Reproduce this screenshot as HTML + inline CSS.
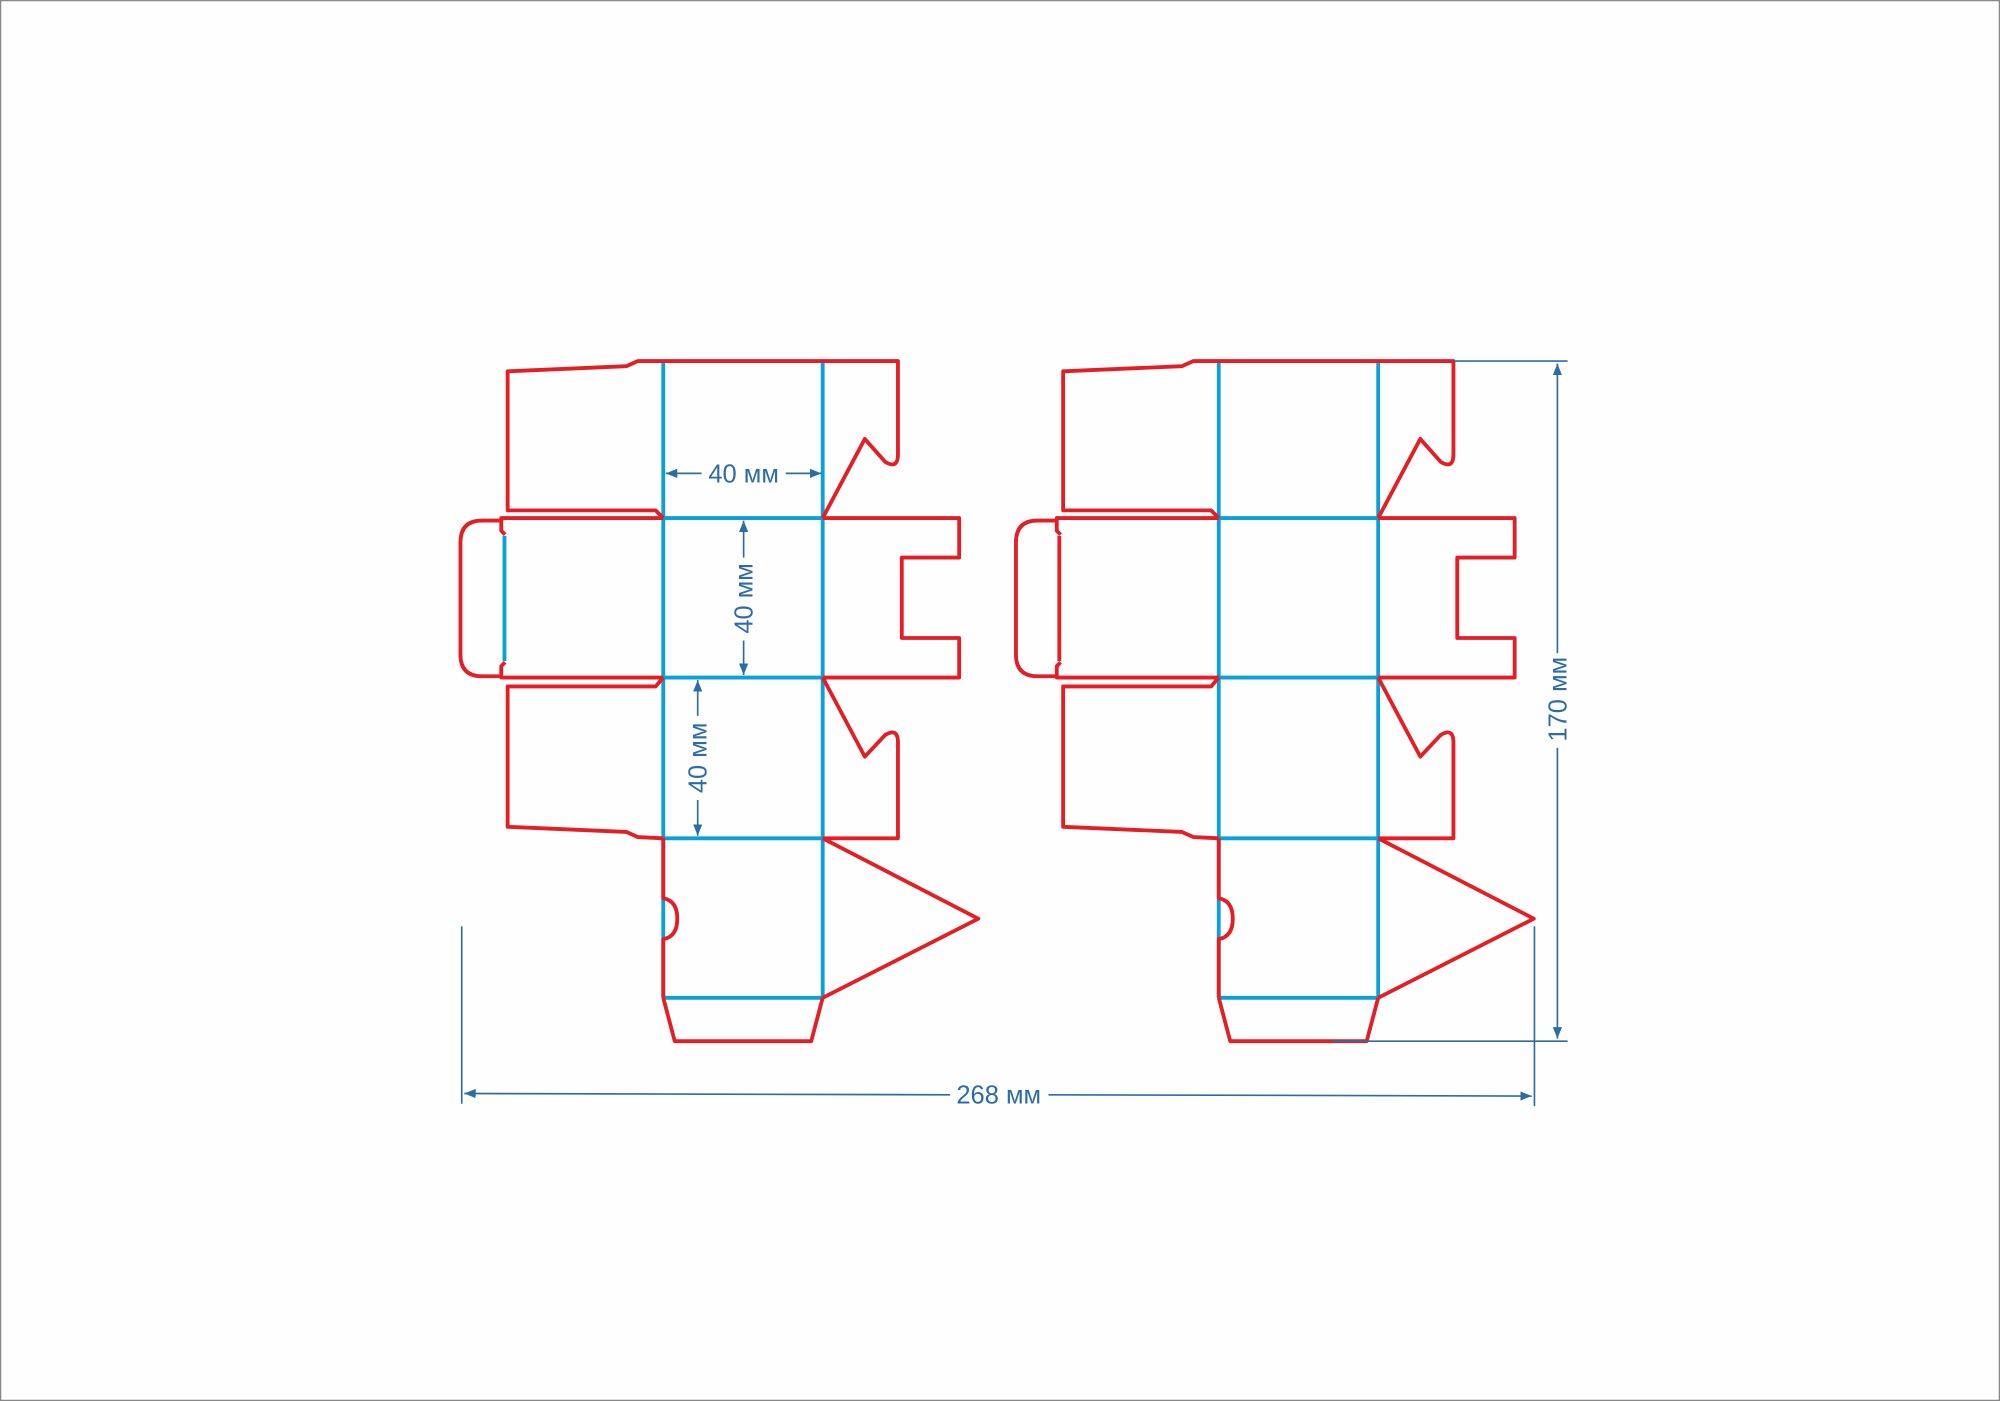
<!DOCTYPE html>
<html><head><meta charset="utf-8"><style>html,body{margin:0;padding:0;background:#fff}svg{display:block}</style></head>
<body>
<svg width="2000" height="1401" viewBox="0 0 1568 1098" preserveAspectRatio="none" xmlns="http://www.w3.org/2000/svg">
<rect x="0.5" y="0.5" width="1567" height="1097" fill="#fefefe" stroke="#888" stroke-width="1"/>
<defs>
<marker id="ar" viewBox="0 0 10 10" refX="10" refY="5" markerWidth="9" markerHeight="9" markerUnits="userSpaceOnUse" orient="auto"><path d="M0,1 L10,5 L0,9 z" fill="#2e6da4"/></marker>
<g id="box">
<g fill="none" stroke="#0aa0dc" stroke-width="3">
<line x1="520" y1="283" x2="520" y2="782"/>
<line x1="645" y1="283" x2="645" y2="782"/>
<line x1="520" y1="406" x2="645" y2="406"/>
<line x1="520" y1="531" x2="645" y2="531"/>
<line x1="520" y1="657" x2="645" y2="657"/>
<line x1="520" y1="782" x2="645" y2="782"/>
</g>
<g fill="none" stroke="#e31e24" stroke-width="3" stroke-linejoin="round">
<path d="M645,406 L678,344 L694,362 Q704,368 704,356 L704,283 L500,283 L491,287 L398,291 L398,400 L514,400 L520,406"/>
<path d="M520,406 L393,406 L393,408 L378,408 Q361,408 361,425 L361,513 Q361,530 378,530 L393,530 L393,531 L520,531"/>
<path d="M393,408 L393,416 L396,419"/><path d="M396,519 L393,522 L393,530"/>
<path d="M645,406 L752,406 L752,437 L707,437 L707,500 L752,500 L752,531 L645,531"/>
<path d="M520,531 L514,538 L398,538 L398,648 L491,652 L500,656 L520,657"/>
<path d="M645,531 L678,593 L694,576 Q704,570 704,582 L704,657 L645,657"/>
<path d="M520,657 L520,704 Q531,706 531,720 Q531,734 520,736 L520,782"/>
<path d="M645,657 L767,720 L645,782"/>
<path d="M520,782 L529,816 L636,816 L645,782"/>
</g>
</g>
</defs>
<use href="#box"/>
<use href="#box" transform="translate(435.5,0)"/>
<line x1="395.5" y1="420" x2="395.5" y2="518" stroke="#0aa0dc" stroke-width="3"/>
<line x1="830.5" y1="420" x2="830.5" y2="518" stroke="#e31e24" stroke-width="3"/>
<g stroke="#2e6da4" stroke-width="1.3" fill="none">
<line x1="550" y1="371" x2="522" y2="371" marker-end="url(#ar)"/>
<line x1="616" y1="371" x2="644" y2="371" marker-end="url(#ar)"/>
<line x1="583" y1="437" x2="583" y2="408" marker-end="url(#ar)"/>
<line x1="583" y1="502" x2="583" y2="529" marker-end="url(#ar)"/>
<line x1="547" y1="561" x2="547" y2="533" marker-end="url(#ar)"/>
<line x1="547" y1="627" x2="547" y2="655" marker-end="url(#ar)"/>
<line x1="1140" y1="283" x2="1229" y2="283"/>
<line x1="1045" y1="816" x2="1229" y2="816"/>
<line x1="1221" y1="512" x2="1221" y2="285" marker-end="url(#ar)"/>
<line x1="1221" y1="586" x2="1221" y2="814" marker-end="url(#ar)"/>
<line x1="362" y1="726" x2="362" y2="865"/>
<line x1="1203" y1="726" x2="1203" y2="867"/>
<line x1="745" y1="858" x2="364" y2="857" marker-end="url(#ar)"/>
<line x1="822" y1="858" x2="1201" y2="859" marker-end="url(#ar)"/>
</g>
<g font-family="Liberation Sans, sans-serif" font-size="20" fill="#2e6da4" text-anchor="middle">
<text x="583" y="378">40 мм</text>
<text transform="translate(590,469) rotate(-90)">40 мм</text>
<text transform="translate(554,594) rotate(-90)">40 мм</text>
<text transform="translate(1228,548) rotate(-90)">170 мм</text>
<text x="783" y="865">268 мм</text>
</g>
</svg>
</body></html>
